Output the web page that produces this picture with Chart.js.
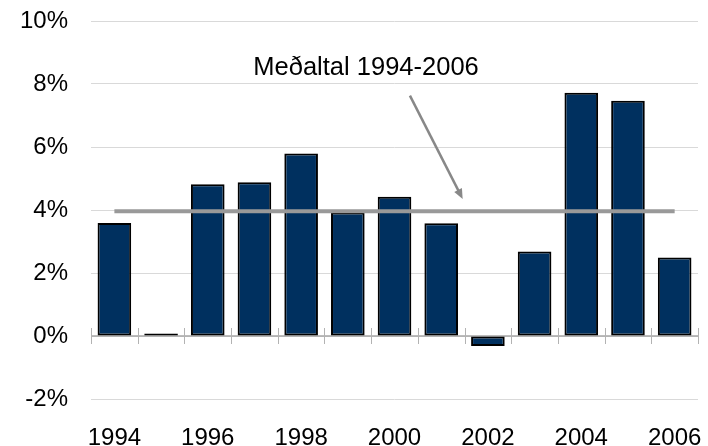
<!DOCTYPE html>
<html>
<head>
<meta charset="utf-8">
<script src="https://cdn.jsdelivr.net/npm/chart.js@4/dist/chart.umd.min.js"></script>
<style>
html,body{margin:0;padding:0;background:#fff;}
#wrap{width:708px;height:446px;position:relative;}
</style>
</head>
<body>
<div id="wrap"><canvas id="c" width="708" height="446"></canvas></div>
<script>
const years = ['1994','1995','1996','1997','1998','1999','2000','2001','2002','2003','2004','2005','2006'];
const growth = [3.59, 0.08, 4.82, 4.88, 5.79, 3.92, 4.42, 3.58, -0.32, 2.68, 7.72, 7.47, 2.49];
const averageValue = 3.96;
const averageLine = years.map(() => averageValue);
const yTicks = [-2, 0, 2, 4, 6, 8, 10];
const annotationText = 'Meðaltal 1994-2006';

const FONT = "'Liberation Sans', Arial, sans-serif";

const zeroAxisPlugin = {
  id: 'zeroAxis',
  beforeDatasetsDraw(chart) {
    const {ctx, chartArea, scales:{x, y}} = chart;
    const y0 = y.getPixelForValue(0);
    const step = x.getPixelForValue(1) - x.getPixelForValue(0);
    ctx.save();
    ctx.strokeStyle = '#a6a6a6';
    ctx.lineWidth = 1.5;
    ctx.beginPath();
    ctx.moveTo(chartArea.left, y0);
    ctx.lineTo(chartArea.right, y0);
    ctx.stroke();
    ctx.lineWidth = 1;
    ctx.strokeStyle = '#b3b3b3';
    for (let i = 0; i <= years.length; i++) {
      const px = Math.round(x.getPixelForValue(i) - step / 2) + 0.5;
      ctx.beginPath();
      ctx.moveTo(px, y0 - 8);
      ctx.lineTo(px, y0 + 8);
      ctx.stroke();
    }
    ctx.restore();
  }
};

const annotationPlugin = {
  id: 'avgNote',
  afterDatasetsDraw(chart, args, opts) {
    const {ctx, scales:{x, y}} = chart;
    ctx.save();
    ctx.font = '25.5px ' + FONT;
    ctx.fillStyle = '#000';
    ctx.textAlign = 'center';
    ctx.textBaseline = 'middle';
    ctx.fillText(annotationText, x.getPixelForValue(opts.textX), y.getPixelForValue(opts.textY));
    const x1 = x.getPixelForValue(opts.fromX), y1 = y.getPixelForValue(opts.fromY);
    const x2 = x.getPixelForValue(opts.toX), y2 = y.getPixelForValue(opts.toY);
    const ang = Math.atan2(y2 - y1, x2 - x1);
    const head = 11;
    ctx.strokeStyle = '#888';
    ctx.fillStyle = '#888';
    ctx.lineWidth = 2.5;
    ctx.beginPath();
    ctx.moveTo(x1, y1);
    ctx.lineTo(x2 - Math.cos(ang) * head * 0.8, y2 - Math.sin(ang) * head * 0.8);
    ctx.stroke();
    ctx.beginPath();
    ctx.moveTo(x2, y2);
    ctx.lineTo(x2 - head * Math.cos(ang - 0.4), y2 - head * Math.sin(ang - 0.4));
    ctx.lineTo(x2 - head * Math.cos(ang + 0.4), y2 - head * Math.sin(ang + 0.4));
    ctx.closePath();
    ctx.fill();
    ctx.restore();
  }
};

new Chart(document.getElementById('c'), {
  data: {
    labels: years,
    datasets: [
      {
        type: 'line',
        data: averageLine,
        borderColor: '#999999',
        borderWidth: 4,
        pointRadius: 0,
        fill: false,
        order: 0
      },
      {
        type: 'bar',
        data: growth,
        backgroundColor: '#00305f',
        borderColor: '#000000',
        borderWidth: 2,
        borderSkipped: false,
        categoryPercentage: 1,
        barPercentage: 0.72,
        order: 1
      }
    ]
  },
  options: {
    responsive: false,
    animation: false,
    events: [],
    layout: { padding: { left: 20, right: 10, top: 21, bottom: -4 } },
    plugins: {
      legend: { display: false },
      tooltip: { enabled: false },
      avgNote: { textX: 5.39, textY: 8.52, fromX: 6.33, fromY: 7.63, toX: 7.46, toY: 4.35 }
    },
    scales: {
      x: {
        offset: true,
        grid: { display: true, drawOnChartArea: false, drawTicks: true, tickLength: 27, color: 'rgba(0,0,0,0)', tickColor: 'rgba(0,0,0,0)' },
        border: { display: false },
        ticks: {
          autoSkip: false,
          maxRotation: 0,
          padding: 0,
          color: '#000',
          font: { family: FONT, size: 24, lineHeight: 1 },
          callback: function(v, i) { return i % 2 === 0 ? years[i] : ''; }
        }
      },
      y: {
        min: -2, max: 10,
        afterBuildTicks: (s) => { s.ticks = yTicks.map(v => ({value: v})); },
        grid: { color: '#d9d9d9', lineWidth: 1, drawTicks: true, tickLength: 23, tickColor: 'rgba(0,0,0,0)' },
        border: { display: false },
        ticks: {
          padding: 0,
          color: '#000',
          font: { family: FONT, size: 24 },
          callback: (v) => v + '%'
        }
      }
    }
  },
  plugins: [zeroAxisPlugin, annotationPlugin]
});
</script>
</body>
</html>
